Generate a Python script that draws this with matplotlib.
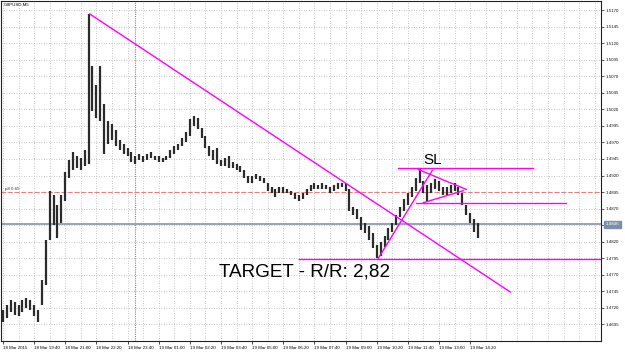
import matplotlib.pyplot as plt
import matplotlib.transforms as mtransforms

# GBPUSD M5 chart, 18 Mar 18:20 -> 19 Mar 14:40, one entry per 10 minutes
bar_high = [
    1.4717, 1.4724, 1.4732, 1.4729, 1.4724, 1.4732, 1.4735, 1.4732, 1.4724, 1.4717,
    1.4762, 1.4822, 1.4896, 1.4890, 1.4875, 1.4890, 1.4925, 1.4943, 1.4955, 1.4950,
    1.4946, 1.4958, 1.5164, 1.5086, 1.5056, 1.5086, 1.5028, 1.5003, 1.4998, 1.4988,
    1.4973, 1.4968, 1.4962, 1.4955, 1.4950, 1.4953, 1.4950, 1.4952, 1.4955, 1.4950,
    1.4949, 1.4947, 1.4950, 1.4958, 1.4964, 1.4968, 1.4976, 1.4985, 1.5006, 1.5010,
    1.5007, 1.4992, 1.4980, 1.4965, 1.4958, 1.4961, 1.4943, 1.4946, 1.4950, 1.4940,
    1.4938, 1.4934, 1.4928, 1.4919, 1.4919, 1.4922, 1.4920, 1.4916, 1.4909, 1.4902,
    1.4899, 1.4902, 1.4903, 1.4900, 1.4897, 1.4894, 1.4890, 1.4894, 1.4900, 1.4906,
    1.4908, 1.4906, 1.4908, 1.4906, 1.4903, 1.4905, 1.4908, 1.4909, 1.4908, 1.4900,
    1.4872, 1.4870, 1.4857, 1.4849, 1.4843, 1.4833, 1.4815, 1.4819, 1.4828, 1.4840,
    1.4848, 1.4861, 1.4873, 1.4884, 1.4893, 1.4903, 1.4916, 1.4931, 1.4912, 1.4905,
    1.4909, 1.4914, 1.4912, 1.4903, 1.4902, 1.4905, 1.4908, 1.4903, 1.4894, 1.4875,
    1.4864, 1.4854, 1.4849,
]
bar_low = [
    1.4699, 1.4705, 1.4714, 1.4709, 1.4708, 1.4714, 1.4720, 1.4717, 1.4708, 1.4699,
    1.4724, 1.4754, 1.4822, 1.4845, 1.4825, 1.4849, 1.4882, 1.4916, 1.4928, 1.4931,
    1.4928, 1.4935, 1.4938, 1.5018, 1.5007, 1.5003, 1.4953, 1.4968, 1.4973, 1.4965,
    1.4958, 1.4953, 1.4950, 1.4940, 1.4938, 1.4943, 1.4940, 1.4943, 1.4946, 1.4943,
    1.4941, 1.4940, 1.4943, 1.4946, 1.4952, 1.4958, 1.4964, 1.4970, 1.4980, 1.4995,
    1.4991, 1.4976, 1.4961, 1.4950, 1.4943, 1.4938, 1.4934, 1.4935, 1.4932, 1.4931,
    1.4928, 1.4925, 1.4916, 1.4908, 1.4909, 1.4914, 1.4912, 1.4908, 1.4897, 1.4893,
    1.4888, 1.4893, 1.4894, 1.4893, 1.4890, 1.4885, 1.4881, 1.4885, 1.4891, 1.4897,
    1.4900, 1.4899, 1.4900, 1.4900, 1.4894, 1.4897, 1.4900, 1.4902, 1.4897, 1.4867,
    1.4861, 1.4855, 1.4837, 1.4833, 1.4822, 1.4810, 1.4795, 1.4798, 1.4812, 1.4822,
    1.4834, 1.4845, 1.4857, 1.4867, 1.4875, 1.4888, 1.4897, 1.4908, 1.4894, 1.4882,
    1.4893, 1.4900, 1.4896, 1.4890, 1.4890, 1.4893, 1.4897, 1.4891, 1.4875, 1.4860,
    1.4849, 1.4834, 1.4825,
]
last_price = 1.4846

time_labels = ["18 Mar 2015", "18 Mar 19:40", "18 Mar 21:00", "18 Mar 22:20",
               "18 Mar 23:40", "19 Mar 01:00", "19 Mar 02:20", "19 Mar 03:40",
               "19 Mar 05:00", "19 Mar 06:20", "19 Mar 07:40", "19 Mar 09:00",
               "19 Mar 10:20", "19 Mar 11:40", "19 Mar 13:00", "19 Mar 14:20"]
price_ticks = [1.4695, 1.4720, 1.4745, 1.4770, 1.4795, 1.4820, 1.4845, 1.4870,
               1.4895, 1.4920, 1.4945, 1.4970, 1.4995, 1.5020, 1.5045, 1.5070,
               1.5095, 1.5120, 1.5145, 1.5170]

# drawn objects: (bar index, price) anchors
trend_down = [(22.3, 1.5164), (130.3, 1.4744)]
trend_up = [(96.4, 1.4795), (110.3, 1.4928)]
tri_upper = [(106.7, 1.4929), (119.0, 1.4899)]
tri_lower = [(108.0, 1.4879), (118.2, 1.4897)]
sl_line = [(101.5, 1.4931), (136.2, 1.4931)]
entry_line = [(106.2, 1.4879), (144.6, 1.4879)]
target_price = 1.4794
target_start = 75.9
alert_price = 1.4895
day_break = 34

x_min, x_max = -0.5, 153.6
y_min, y_max = 1.4670, 1.51836
small = dict(family="Liberation Sans", size=3.2)

fig = plt.figure(figsize=(6.25, 3.52), dpi=100)
ax = fig.add_axes([0.0016, 11 / 352, 600 / 625, 340 / 352])
ax.set_xlim(x_min, x_max)
ax.set_ylim(y_min, y_max)

# grid
ax.set_yticks(price_ticks)
ax.set_yticklabels(["" if abs(p - 1.4845) < 1e-6 else f"{p:.4f}" for p in price_ticks],
                   fontdict=small)
ax.set_xticks(range(0, 8 * len(time_labels), 8))
ax.set_xticklabels(time_labels, fontdict=small, ha="left")
ax.set_xticks(range(0, 154, 4), minor=True)
grid_kw = dict(color="#b5b5b5", linestyle=(0, (1, 2)), linewidth=0.6)
ax.grid(True, which="both", axis="x", **grid_kw)
ax.grid(True, which="major", axis="y", **grid_kw)
ax.axvline(day_break, color="#888888", linestyle=(0, (1, 1)), linewidth=0.8)

ax.yaxis.tick_right()
ax.tick_params(axis="y", length=2, width=0.5, pad=1.5, colors="#111111")
ax.tick_params(axis="x", which="major", length=2, width=0.5, pad=1.5)
ax.tick_params(axis="x", which="minor", length=0)
for sp in ax.spines.values():
    sp.set_color("#222222")
    sp.set_linewidth(0.8)

# level lines
ax.axhline(alert_price, color="#e88080", linestyle=(0, (4, 2)), linewidth=0.8)
ax.text(0.6, alert_price + 0.0002, "p8 0.65", color="#333333", va="bottom", **small)
ax.axhline(last_price, color="#8d9bb0", linewidth=1.3)

# bars
idx = list(range(len(bar_high)))
ax.vlines(idx, bar_low, bar_high, color="#2b2b2b", linewidth=1.6, zorder=3)

# drawn objects
mag = "#ff00ff"
for seg in [trend_down, trend_up, tri_upper, tri_lower, sl_line, entry_line]:
    ax.plot([p[0] for p in seg], [p[1] for p in seg], color=mag, linewidth=1.0, zorder=4)
ax.hlines(target_price, target_start, x_max, color=mag, linewidth=1.0, zorder=4)

ax.text(110.3, 1.4943, "SL", fontsize=11, family="Liberation Sans", ha="center", va="center")
ax.text(55.4, 1.4774, "TARGET - R/R: 2,82", fontsize=13.6, family="Liberation Sans",
        ha="left", va="center")
ax.text(0.004, 0.995, "GBPUSD,M5", transform=ax.transAxes, va="top", **small)

# current price tag on the axis
trans = mtransforms.blended_transform_factory(ax.transAxes, ax.transData)
ax.text(1.008, last_price, f"{last_price:.4f}", transform=trans, color="white",
        va="center", ha="left", clip_on=False,
        bbox=dict(boxstyle="square,pad=0.3", fc="#7d8ea8", ec="#7d8ea8"), **small)

fig.savefig("out.png", dpi=100)
